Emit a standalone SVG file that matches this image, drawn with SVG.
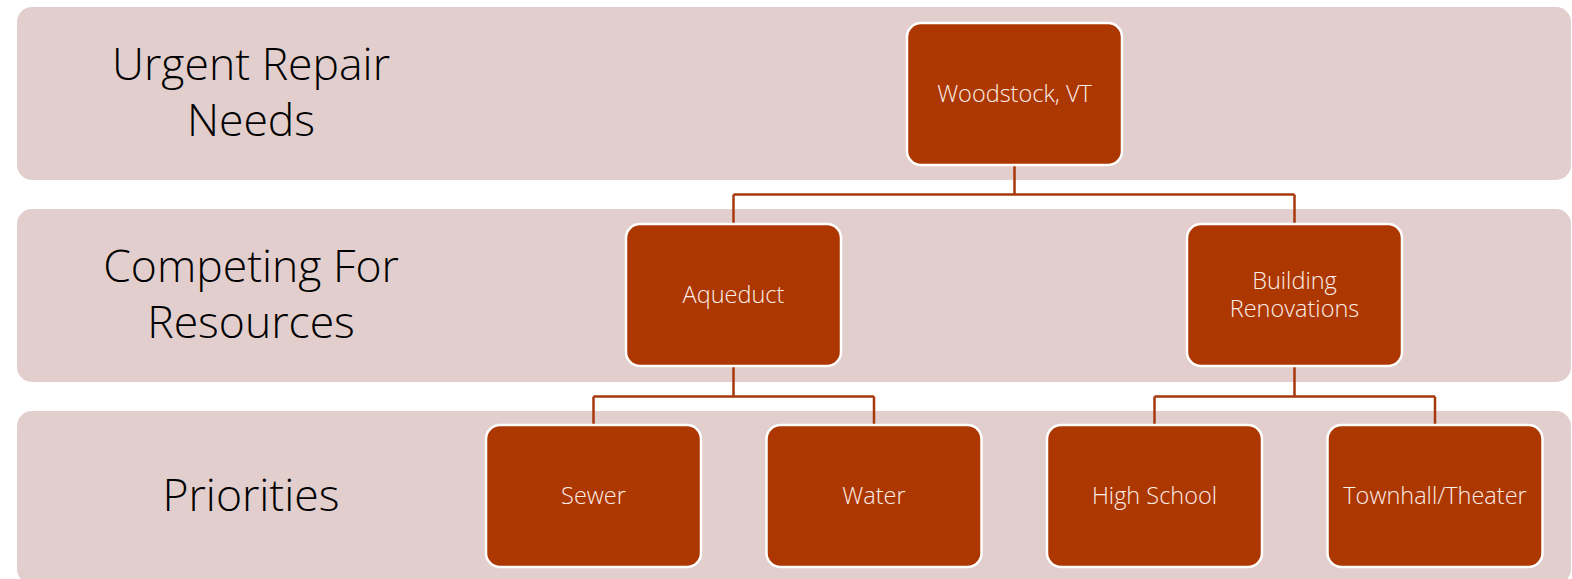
<svg xmlns="http://www.w3.org/2000/svg" width="1572" height="579" viewBox="0 0 1572 579">
  <style>
    .band { fill: #E2CECD; }
    .tier { font-family: "Open Sans", "Liberation Sans", sans-serif; font-weight: 300; font-size: 44.5px; fill: #000000; text-anchor: middle; }
    .box { fill: #AD3700; stroke: #FFFFFF; stroke-width: 2.5; }
    .lbl { font-family: "Open Sans", "Liberation Sans", sans-serif; font-weight: 300; font-size: 23.5px; fill: #FBEDE8; text-anchor: middle; }
    .link { fill: none; stroke: #A7380B; stroke-width: 2.5; }
  </style>
  <rect width="1572" height="579" fill="#FFFFFF"/>

  <!-- horizontal tiers -->
  <g id="tiers">
    <rect class="band" x="17" y="7" width="1554" height="173" rx="15"/>
    <rect class="band" x="17" y="209" width="1554" height="173" rx="15"/>
    <rect class="band" x="17" y="411" width="1554" height="173" rx="15"/>
    <text class="tier" x="251" y="80">Urgent Repair</text>
    <text class="tier" x="251" y="136">Needs</text>
    <text class="tier" x="251" y="282">Competing For</text>
    <text class="tier" x="251" y="338">Resources</text>
    <text class="tier" x="251" y="511">Priorities</text>
  </g>

  <!-- tree connectors -->
  <g id="connectors">
    <path class="link" d="M1014.5 166 V194.5 M733.5 194.5 H1294.5 M733.5 194.5 V224 M1294.5 194.5 V224"/>
    <path class="link" d="M733.5 366 V396.5 M593.5 396.5 H874 M593.5 396.5 V425 M874 396.5 V425"/>
    <path class="link" d="M1294.5 366 V396.5 M1154.5 396.5 H1435 M1154.5 396.5 V425 M1435 396.5 V425"/>
  </g>

  <g id="woodstock">
    <rect class="box" x="907" y="23" width="215" height="142" rx="14"/>
    <text class="lbl" x="1014.5" y="102">Woodstock, VT</text>
  </g>
  <g id="aqueduct">
    <rect class="box" x="626" y="224" width="215" height="142" rx="14"/>
    <text class="lbl" x="733.5" y="303">Aqueduct</text>
  </g>
  <g id="building-renovations">
    <rect class="box" x="1187" y="224" width="215" height="142" rx="14"/>
    <text class="lbl" x="1294.5" y="289">Building</text>
    <text class="lbl" x="1294.5" y="317">Renovations</text>
  </g>
  <g id="sewer">
    <rect class="box" x="486" y="425" width="215" height="142" rx="14"/>
    <text class="lbl" x="593.5" y="504">Sewer</text>
  </g>
  <g id="water">
    <rect class="box" x="766.5" y="425" width="215" height="142" rx="14"/>
    <text class="lbl" x="874" y="504">Water</text>
  </g>
  <g id="high-school">
    <rect class="box" x="1047" y="425" width="215" height="142" rx="14"/>
    <text class="lbl" x="1154.5" y="504">High School</text>
  </g>
  <g id="townhall-theater">
    <rect class="box" x="1327.5" y="425" width="215" height="142" rx="14"/>
    <text class="lbl" x="1435" y="504">Townhall/Theater</text>
  </g>
</svg>
